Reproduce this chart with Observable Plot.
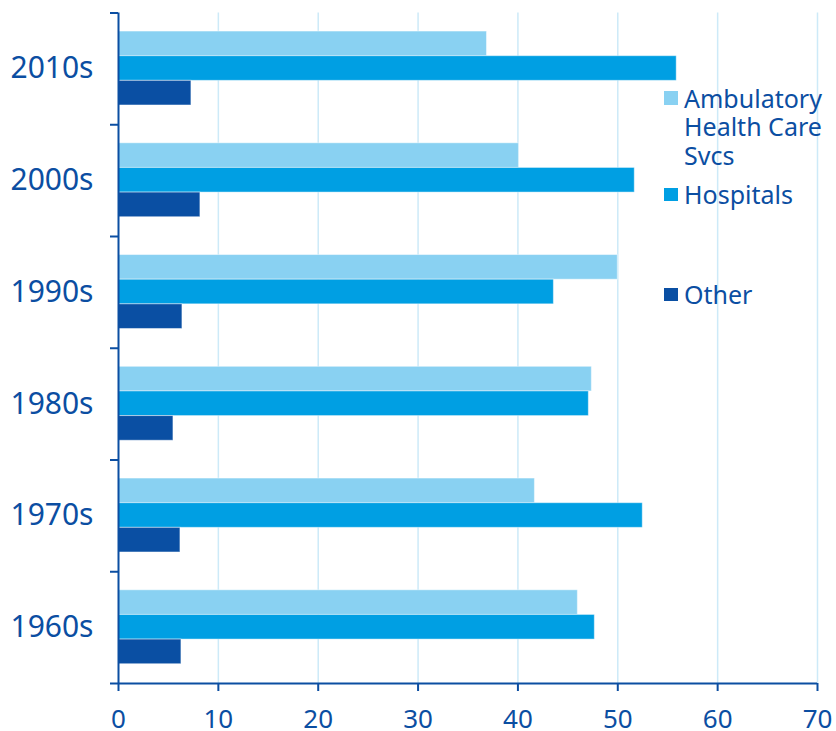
<!DOCTYPE html>
<html>
<head>
<meta charset="utf-8">
<script src="https://cdn.jsdelivr.net/npm/d3@7"></script>
<script src="https://cdn.jsdelivr.net/npm/@observablehq/plot@0.6"></script>
<style>
  html, body { margin: 0; padding: 0; background: #fff; }
  #wrap { position: relative; width: 836px; height: 731px; font-family: "Noto Sans", sans-serif; }
  #wrap svg { position: absolute; left: 0; top: 0; }
  .legend-item { position: absolute; left: 664px; display: flex; align-items: flex-start; width: 172px;
    font-size: 25px; line-height: 28.5px; color: #0b4ea2; }
  .legend-item .swatch { flex: none; width: 13.5px; height: 13.5px; margin-top: 7.8px; margin-right: 6.5px; }
</style>
</head>
<body>
<div id="wrap"></div>
<script>
// Decades, top to bottom
const decades = ["2010s", "2000s", "1990s", "1980s", "1970s", "1960s"];
const series = ["Ambulatory Health Care Svcs", "Hospitals", "Other"];
// Values per decade (same order as decades)
const ambulatory = [36.9, 40.1, 50.0, 47.4, 41.7, 46.0];
const hospitals  = [55.9, 51.7, 43.6, 47.1, 52.5, 47.7];
const other      = [7.3, 8.2, 6.4, 5.5, 6.2, 6.3];
const xTicks = [0, 10, 20, 30, 40, 50, 60, 70];

const colors = ["#89d1f2", "#009fe3", "#0a4fa3"];
const ink = "#0b4ea2";
const grid = "#cdeaf8";

// Layout of the three bars inside each decade band (fractions of the band)
const PAD = 0.166;
const BAR = 0.2205;

const valuesBySeries = [ambulatory, hospitals, other];
const rows = decades.flatMap((decade, i) =>
  series.map((s, k) => ({ decade, i, k, series: s, value: valuesBySeries[k][i] }))
);

const chart = Plot.plot({
  width: 836,
  height: 731,
  marginLeft: 118,
  marginRight: 19,
  marginTop: 12.5,
  marginBottom: 48,
  style: { fontFamily: "Noto Sans, sans-serif", background: "transparent", overflow: "visible" },
  x: { domain: [0, 70], label: null },
  y: { type: "linear", domain: [0, decades.length], reverse: true, label: null },
  color: { domain: series, range: colors },
  marks: [
    Plot.gridX(xTicks.slice(1), { stroke: grid, strokeOpacity: 1, strokeWidth: 1.5 }),
    Plot.rectX(rows, {
      x1: 0,
      x2: "value",
      y1: d => d.i + PAD + d.k * BAR,
      y2: d => d.i + PAD + (d.k + 1) * BAR,
      fill: "series",
      stroke: "white",
      strokeOpacity: 0.45,
      strokeWidth: 1
    }),
    Plot.ruleX([0], { stroke: ink, strokeWidth: 2 }),
    Plot.ruleY([decades.length], { stroke: ink, strokeWidth: 2 }),
    Plot.axisX(xTicks, {
      tickSize: 8, tickPadding: 18, fontSize: 26, color: ink, strokeWidth: 2, label: null
    }),
    // band boundary ticks on the left axis
    Plot.axisY(d3.range(decades.length + 1), {
      tickSize: 8, tickFormat: () => "", color: ink, strokeWidth: 2, label: null
    }),
    // decade labels centred on each band
    Plot.axisY(decades.map((d, i) => i + 0.5), {
      tickSize: 0, tickPadding: 25, fontSize: 30, color: ink, label: null,
      tickFormat: v => decades[Math.floor(v)]
    })
  ]
});

const wrap = document.getElementById("wrap");
wrap.appendChild(chart);

// Legend placed over the right side of the plot
const legendTops = [83.5, 180.2, 280.2];
series.forEach((s, k) => {
  const item = document.createElement("div");
  item.className = "legend-item";
  item.style.top = legendTops[k] + "px";
  const sw = document.createElement("span");
  sw.className = "swatch";
  sw.style.background = colors[k];
  const label = document.createElement("span");
  label.textContent = s;
  label.style.width = "150px";
  item.appendChild(sw);
  item.appendChild(label);
  wrap.appendChild(item);
});
</script>
</body>
</html>
